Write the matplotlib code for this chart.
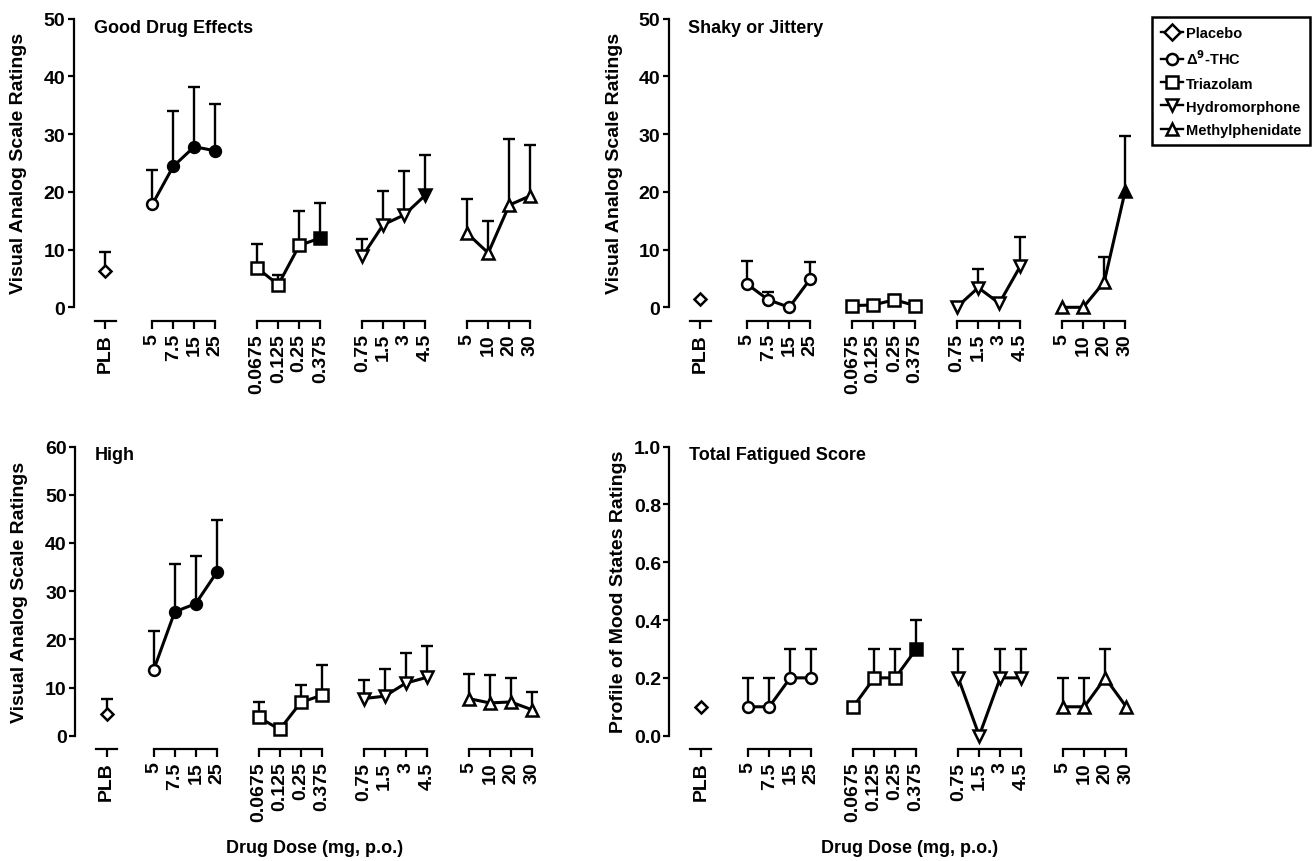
import numpy as np
import matplotlib
matplotlib.use("Agg")
import matplotlib.pyplot as plt
from matplotlib.lines import Line2D

plt.rcParams['font.family'] = ['Liberation Sans', 'DejaVu Sans']
plt.rcParams['font.weight'] = 'bold'
plt.rcParams['axes.labelweight'] = 'bold'

W, H = 1315, 862

drugs = ["Placebo", "Δ$^{\\mathbf{9}}$-THC", "Triazolam", "Hydromorphone", "Methylphenidate"]
markers = ['D', 'o', 's', 'v', '^']
msizes = [6.5, 7.8, 9, 9, 9]
dose_labels = [["PLB"],
               ["5", "7.5", "15", "25"],
               ["0.0675", "0.125", "0.25", "0.375"],
               ["0.75", "1.5", "3", "4.5"],
               ["5", "10", "20", "30"]]

# Good Drug Effects (VAS): mean, top of error bar, significant vs placebo
good_mean = [[6.2], [17.8, 24.4, 27.8, 27.1], [6.8, 3.9, 10.7, 12.0],
             [8.8, 14.3, 16.0, 19.4], [12.8, 9.4, 17.7, 19.3]]
good_top = [[9.6], [23.8, 34.0, 38.2, 35.2], [11.0, 5.6, 16.7, 18.0],
            [11.8, 20.1, 23.6, 26.3], [18.8, 14.9, 29.2, 28.1]]
good_sig = [[0], [0, 1, 1, 1], [0, 0, 0, 1], [0, 0, 0, 1], [0, 0, 0, 0]]

# Shaky or Jittery (VAS)
shaky_mean = [[1.4], [4.0, 1.3, 0.0, 4.9], [0.3, 0.4, 1.3, 0.3],
              [0.1, 3.4, 0.7, 7.1], [0.0, 0.0, 4.4, 20.2]]
shaky_top = [[1.4], [8.0, 2.7, 0.0, 7.9], [0.3, 0.4, 2.2, 0.3],
             [0.1, 6.7, 0.7, 12.2], [0.0, 0.0, 8.7, 29.7]]
shaky_sig = [[0], [0, 0, 0, 0], [0, 0, 0, 0], [0, 0, 0, 0], [0, 0, 0, 1]]

# High (VAS)
high_mean = [[4.5], [13.7, 25.7, 27.4, 33.9], [3.8, 1.3, 6.9, 8.4],
             [7.7, 8.2, 10.9, 12.1], [7.7, 6.8, 7.0, 5.4]]
high_top = [[7.7], [21.7, 35.7, 37.3, 44.7], [7.0, 1.3, 10.5, 14.6],
            [11.6, 13.9, 17.2, 18.6], [12.9, 12.6, 12.0, 9.1]]
high_sig = [[0], [0, 1, 1, 1], [0, 0, 0, 0], [0, 0, 0, 0], [0, 0, 0, 0]]

# Total Fatigued Score (POMS)
fat_mean = [[0.1], [0.1, 0.1, 0.2, 0.2], [0.1, 0.2, 0.2, 0.3],
            [0.2, 0.0, 0.2, 0.2], [0.1, 0.1, 0.2, 0.1]]
fat_top = [[0.1], [0.2, 0.2, 0.3, 0.3], [0.1, 0.3, 0.3, 0.4],
           [0.3, 0.0, 0.3, 0.3], [0.2, 0.2, 0.3, 0.1]]
fat_sig = [[0], [0, 0, 0, 0], [0, 0, 0, 1], [0, 0, 0, 0], [0, 0, 0, 0]]

# x layout: placebo, then four dose groups of 4, gap of 2 between groups
xpos = [np.array([0.0])] + [np.arange(4) + 2.25 + 5 * g for g in range(4)]


def ax_rect(left, top, bottom, width=483):
    return [left / W, 1 - bottom / H, width / W, (bottom - top) / H]


def draw_panel(ax, title, ylabel, ymax, ystep, means, tops, sig, fmt, ylab_x):
    for g in range(5):
        x = xpos[g]
        m = np.array(means[g], dtype=float)
        t = np.array(tops[g], dtype=float)
        ax.plot(x, m, color='k', lw=2.2, zorder=3, clip_on=False)
        has = t > m + 1e-9
        if has.any():
            eb = ax.errorbar(x[has], m[has], yerr=[np.zeros(has.sum()), (t - m)[has]],
                             fmt='none', ecolor='k', elinewidth=1.7, capsize=4,
                             capthick=1.7, zorder=2)
            for cap in eb[1]:
                if np.allclose(cap.get_ydata(), m[has]):
                    cap.set_visible(False)
        for xi, mi, si in zip(x, m, sig[g]):
            ax.plot(xi, mi, marker=markers[g], ms=msizes[g],
                    mfc='k' if si else 'w', mec='k', mew=1.8,
                    zorder=4, clip_on=False)

    ax.set_xlim(-1.5, 21.5)
    ax.set_ylim(0, ymax)
    for s in ['top', 'right']:
        ax.spines[s].set_visible(False)
    ax.spines['left'].set_linewidth(1.6)
    ax.spines['bottom'].set_position(('outward', 9.6))
    ax.spines['bottom'].set_visible(False)

    yt = np.arange(0, ymax + ystep / 2, ystep)
    ax.set_yticks(yt)
    ax.set_yticklabels([fmt.format(v) for v in yt])
    ax.tick_params(axis='y', direction='out', length=4, width=1.6, pad=2, labelsize=14)

    ticks = np.concatenate(xpos)
    labels = sum(dose_labels, [])
    ax.set_xticks(ticks)
    ax.set_xticklabels(labels, rotation=90, va='top', ha='center')
    ax.tick_params(axis='x', direction='out', length=6, width=1.6, pad=3, labelsize=14)

    trans = ax.spines['bottom'].get_spine_transform()
    ax.plot([-0.5, 0.5], [0, 0], color='k', lw=1.6, transform=trans,
            clip_on=False, solid_capstyle='projecting')
    for g in range(1, 5):
        ax.plot([xpos[g][0], xpos[g][-1]], [0, 0], color='k', lw=1.6,
                transform=trans, clip_on=False, solid_capstyle='projecting')

    ax.text(20 / 483, 1.0, title, transform=ax.transAxes, ha='left', va='top',
            fontsize=13)
    ax.set_ylabel(ylabel, fontsize=14, va='center')
    ax.yaxis.set_label_coords(ylab_x, 0.5)


fig = plt.figure(figsize=(W / 100, H / 100), dpi=100)
ax1 = fig.add_axes(ax_rect(73.5, 19.5, 308.3))
ax2 = fig.add_axes(ax_rect(668.5, 19.5, 308.3))
ax3 = fig.add_axes(ax_rect(75, 447.5, 736.7))
ax4 = fig.add_axes(ax_rect(669.5, 447.5, 736.7))

draw_panel(ax1, "Good Drug Effects", "Visual Analog Scale Ratings", 50, 10,
           good_mean, good_top, good_sig, "{:.0f}", (19 - 73.5) / 483)
draw_panel(ax2, "Shaky or Jittery", "Visual Analog Scale Ratings", 50, 10,
           shaky_mean, shaky_top, shaky_sig, "{:.0f}", (614.5 - 668.5) / 483)
draw_panel(ax3, "High", "Visual Analog Scale Ratings", 60, 10,
           high_mean, high_top, high_sig, "{:.0f}", (20 - 75) / 483)
draw_panel(ax4, "Total Fatigued Score", "Profile of Mood States Ratings", 1.0, 0.2,
           fat_mean, fat_top, fat_sig, "{:.1f}", (619 - 669.5) / 483)

fig.text(315 / W, 1 - 849 / H, "Drug Dose (mg, p.o.)", ha='center', va='center',
         fontsize=13)
fig.text(910 / W, 1 - 849 / H, "Drug Dose (mg, p.o.)", ha='center', va='center',
         fontsize=13)

handles = [Line2D([0], [0], color='k', lw=1.7, marker=mk, ms=8, mfc='w', mec='k', mew=1.8)
           for mk in markers]
leg = fig.legend(handles, drugs, loc='upper left', bbox_to_anchor=(1152 / W, 1 - 18 / H),
                 frameon=True, fancybox=False, edgecolor='k', framealpha=1,
                 prop=dict(weight='bold', size=10.5), handlelength=1.5,
                 handletextpad=0.2, labelspacing=0.62, borderpad=0.6,
                 borderaxespad=0)
leg.get_frame().set_linewidth(1.8)

fig.savefig("out.png", dpi=100)
